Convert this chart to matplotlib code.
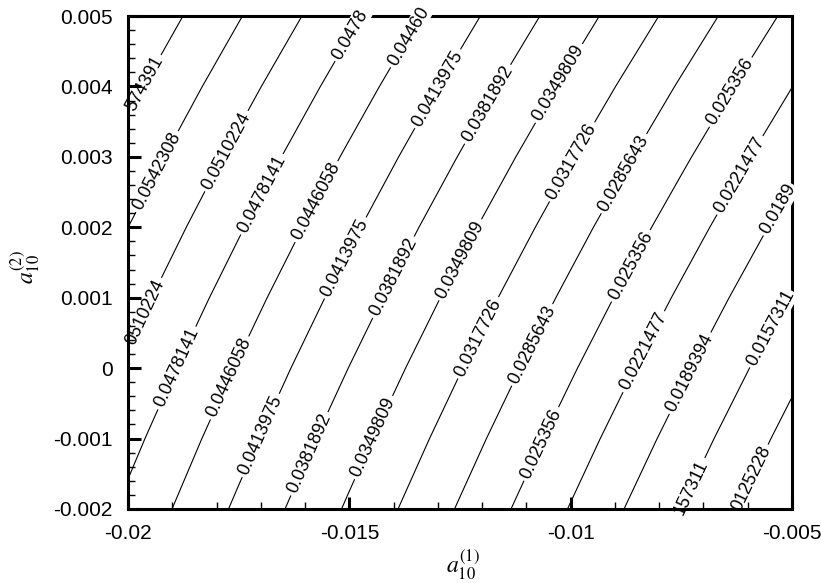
import matplotlib.pyplot as plt
from matplotlib.ticker import MultipleLocator, FuncFormatter

plt.rcParams['font.family'] = 'Liberation Sans'
plt.rcParams['mathtext.fontset'] = 'stix'
plt.rcParams['axes.unicode_minus'] = False

# Werte auf einem groben Gitter
x_vals = [-0.02, -0.0175, -0.015, -0.0125, -0.01, -0.0075, -0.005]
y_vals = [-0.002, -0.001, 0.0, 0.001, 0.002, 0.003, 0.004, 0.005]
z_vals = [
    [0.047105, 0.040821, 0.034537, 0.028253, 0.021969, 0.015685, 0.009401],
    [0.048771, 0.042532, 0.036293, 0.030054, 0.023815, 0.017576, 0.011337],
    [0.050515, 0.044321, 0.038127, 0.031933, 0.025738, 0.019545, 0.013351],
    [0.052337, 0.046188, 0.040039, 0.033890, 0.027740, 0.021592, 0.015443],
    [0.054236, 0.048132, 0.042028, 0.035924, 0.029820, 0.023716, 0.017612],
    [0.056214, 0.050155, 0.044096, 0.038037, 0.031978, 0.025919, 0.019860],
    [0.058270, 0.052256, 0.046242, 0.040228, 0.034214, 0.028200, 0.022186],
    [0.060404, 0.054435, 0.048466, 0.042497, 0.036528, 0.030559, 0.024590],
]

levels = [0.0125228, 0.0157311, 0.0189394, 0.0221477, 0.025356, 0.0285643,
          0.0317726, 0.0349809, 0.0381892, 0.0413975, 0.0446058, 0.0478141,
          0.0510224, 0.0542308, 0.0574391]
level_text = ['0.0125228', '0.0157311', '0.0189394', '0.0221477', '0.025356',
              '0.0285643', '0.0317726', '0.0349809', '0.0381892', '0.0413975',
              '0.0446058', '0.0478141', '0.0510224', '0.0542308', '0.0574391']

# Beschriftungen: (Index der Linie, x, y, Text oder None fuer vollen Wert)
labels = [
    (14, -0.01957, 0.00402, '574391'),
    (13, -0.01928, 0.00277, None),
    (12, -0.01774, 0.00307, None),
    (12, -0.01950, 0.00076, '0510224'),
    (11, -0.01695, 0.00246, None),
    (11, -0.01889, 0.00000, None),
    (11, -0.01499, 0.00474, '0.0478'),
    (10, -0.01573, 0.00236, None),
    (10, -0.01770, -0.00014, None),
    (10, -0.01377, 0.00475, '0.04460'),
    (9, -0.01304, 0.00398, None),
    (9, -0.01514, 0.00158, None),
    (9, -0.01702, -0.00095, None),
    (8, -0.01191, 0.00376, None),
    (8, -0.01397, 0.00128, None),
    (8, -0.01596, -0.00120, None),
    (7, -0.01031, 0.00406, None),
    (7, -0.01250, 0.00154, None),
    (7, -0.01447, -0.00098, None),
    (6, -0.00997, 0.00293, None),
    (6, -0.01212, 0.00044, None),
    (5, -0.00882, 0.00277, None),
    (5, -0.01090, 0.00034, None),
    (4, -0.00636, 0.00391, None),
    (4, -0.00866, 0.00146, None),
    (4, -0.01072, -0.00106, None),
    (3, -0.00618, 0.00274, None),
    (3, -0.00843, 0.00026, None),
    (2, -0.00527, 0.00225, '0.0189'),
    (2, -0.00737, -0.00005, None),
    (1, -0.00550, 0.00058, None),
    (1, -0.00735, -0.00167, '157311'),
    (0, -0.00595, -0.00156, '0125228'),
]

fig = plt.figure(figsize=(8.21, 5.83), dpi=100)
ax = fig.add_axes([128 / 821, 74 / 583, 664 / 821, 493 / 583])

cs = ax.contour(x_vals, y_vals, z_vals, levels=levels, colors='k', linewidths=0.8)

for i, lx, ly, txt in labels:
    fmt_map = dict(zip(levels, level_text))
    if txt:
        fmt_map[levels[i]] = txt
    res = ax.clabel(cs, fmt=fmt_map, manual=[(lx, ly)],
                    inline=True, inline_spacing=3, fontsize=13, colors='k')
    t = res[-1]
    t.set_clip_on(False)
    # Labels am oberen/rechten Rand ueberdecken den Rahmen
    if ly > 0.0045 or (lx > -0.0058 and ly > 0):
        t.set_bbox(dict(facecolor='white', edgecolor='none', pad=0.5))
        t.set_zorder(5)

ax.set_xlim(-0.02, -0.005)
ax.set_ylim(-0.002, 0.005)

fmt = FuncFormatter(lambda v, p: '%g' % (round(v, 6) + 0.0))
ax.xaxis.set_major_locator(MultipleLocator(0.005))
ax.xaxis.set_minor_locator(MultipleLocator(0.001))
ax.yaxis.set_major_locator(MultipleLocator(0.001))
ax.yaxis.set_minor_locator(MultipleLocator(0.0002))
ax.xaxis.set_major_formatter(fmt)
ax.yaxis.set_major_formatter(fmt)

ax.tick_params(which='both', direction='in', top=False, right=False,
               labelsize=15, pad=11)
ax.tick_params(which='major', length=9, width=2.2)
ax.tick_params(which='minor', length=5, width=1)
for sp in ax.spines.values():
    sp.set_linewidth(2.2)

ax.set_xlabel(r'$a_{10}^{(1)}$', fontsize=17)
ax.set_ylabel(r'$a_{10}^{(2)}$', fontsize=17)
ax.xaxis.set_label_coords(0.505, -0.08)
ax.yaxis.set_label_coords(-0.13, 0.49)

fig.savefig('out.png', dpi=100)
